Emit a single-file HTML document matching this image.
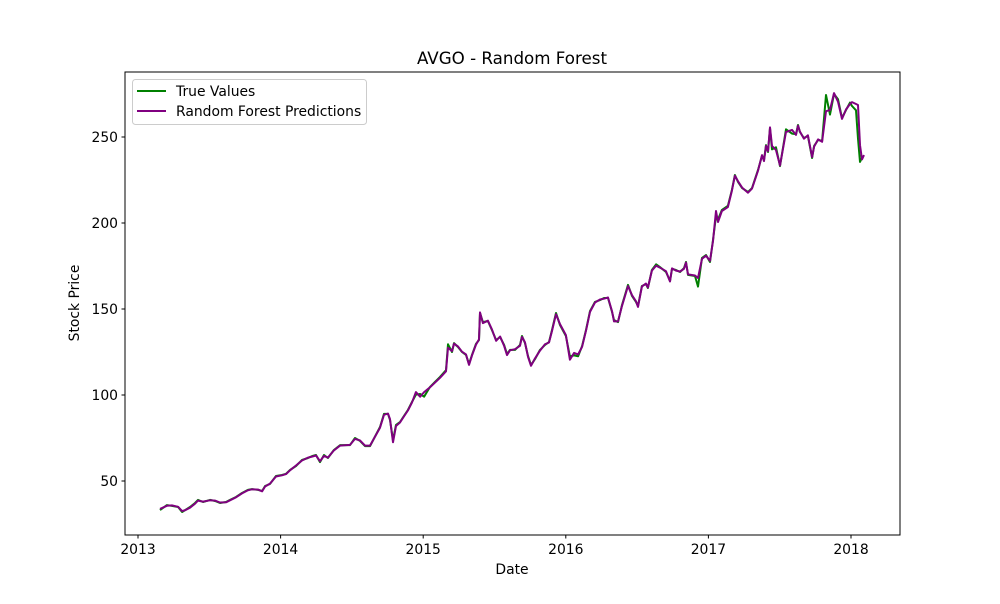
<!DOCTYPE html>
<html><head><meta charset="utf-8"><style>
body{margin:0;background:#fff;font-family:"DejaVu Sans","Liberation Sans",sans-serif;}
svg text{font-family:"DejaVu Sans","Liberation Sans",sans-serif;}
</style></head><body>
<svg id="c" width="1000" height="600">
<rect width="1000" height="600" fill="#fff"/>
<text x="512" y="64" font-size="16.7" text-anchor="middle">AVGO - Random Forest</text>
<g id="ticks"></g>
<g id="lines"></g>
<rect x="125" y="72" width="775" height="463" fill="none" stroke="#000" stroke-width="1"/>
<text x="512" y="574" font-size="13.9" text-anchor="middle">Date</text>
<text x="79" y="303" font-size="13.9" text-anchor="middle" transform="rotate(-90 79 303)">Stock Price</text>
<g>
<rect x="132.5" y="79.5" width="234" height="45" rx="3" fill="#fff" fill-opacity="0.8" stroke="#ccc"/>
<line x1="137" y1="91" x2="166" y2="91" stroke="green" stroke-width="2"/>
<text x="176" y="96" font-size="13.9">True Values</text>
<line x1="137" y1="111" x2="166" y2="111" stroke="purple" stroke-width="2"/>
<text x="176" y="116" font-size="13.9">Random Forest Predictions</text>
</g>
</svg>
<script>
const dates=[2013.154,2013.203,2013.238,2013.281,2013.309,2013.330,2013.365,2013.400,2013.421,2013.456,2013.505,2013.540,2013.575,2013.617,2013.645,2013.687,2013.729,2013.771,2013.799,2013.842,2013.870,2013.891,2013.926,2013.968,2014.010,2014.038,2014.066,2014.108,2014.150,2014.192,2014.220,2014.248,2014.276,2014.304,2014.332,2014.374,2014.417,2014.487,2014.522,2014.557,2014.592,2014.627,2014.697,2014.725,2014.753,2014.767,2014.788,2014.809,2014.837,2014.865,2014.893,2014.921,2014.949,2014.978,2015.006,2015.048,2015.118,2015.160,2015.174,2015.202,2015.216,2015.244,2015.272,2015.300,2015.321,2015.342,2015.370,2015.391,2015.398,2015.419,2015.454,2015.482,2015.511,2015.539,2015.567,2015.588,2015.609,2015.644,2015.679,2015.693,2015.714,2015.735,2015.756,2015.784,2015.819,2015.854,2015.882,2015.903,2015.931,2015.959,2016.001,2016.029,2016.058,2016.086,2016.114,2016.142,2016.170,2016.205,2016.240,2016.268,2016.296,2016.324,2016.338,2016.366,2016.394,2016.436,2016.464,2016.492,2016.506,2016.534,2016.562,2016.576,2016.604,2016.633,2016.661,2016.703,2016.731,2016.745,2016.773,2016.801,2016.829,2016.843,2016.857,2016.906,2016.927,2016.955,2016.983,2017.011,2017.032,2017.053,2017.067,2017.095,2017.137,2017.165,2017.186,2017.208,2017.236,2017.278,2017.306,2017.348,2017.376,2017.390,2017.404,2017.418,2017.432,2017.446,2017.474,2017.502,2017.544,2017.586,2017.614,2017.628,2017.642,2017.670,2017.698,2017.727,2017.741,2017.769,2017.797,2017.825,2017.853,2017.881,2017.909,2017.937,2017.965,2017.993,2018.007,2018.035,2018.049,2018.063,2018.077,2018.091];
const trueVals=[33.1,36.0,35.5,34.9,32.0,33.1,34.9,37.2,39.0,37.8,39.0,38.4,37.2,37.8,39.0,40.7,43.0,44.8,45.3,44.8,44.2,47.1,48.3,52.9,53.5,54.1,56.4,58.7,62.2,63.4,64.5,65.1,61.0,65.1,63.4,68.0,70.9,70.9,75.0,73.3,70.3,70.3,81.4,89.0,89.0,85.5,73.8,82.6,84.3,87.8,91.3,95.9,100.2,100.6,99.0,104.7,110.5,114.5,129.5,125.0,130.2,127.9,125.0,123.3,118.0,123.3,129.7,132.0,147.7,142.4,143.0,137.8,132.0,133.7,129.1,123.8,126.2,126.2,129.1,134.3,130.2,122.7,117.4,120.9,126.2,129.1,130.8,137.8,147.7,140.7,134.3,122.5,123.0,122.5,128.5,137.8,148.8,154.1,155.2,156.4,156.4,148.3,143.6,142.4,152.3,164.0,157.6,154.1,151.7,163.4,164.5,162.2,172.7,176.0,174.3,171.5,166.3,173.3,172.7,171.5,173.8,177.3,169.8,169.2,163.0,179.7,181.4,177.3,190.1,204.0,202.0,207.6,210.0,219.2,227.9,223.8,220.3,218.0,220.3,230.8,239.0,236.6,245.3,241.3,255.2,242.8,244.0,233.1,254.5,252.0,251.7,257.0,252.9,249.4,250.6,237.8,244.8,248.3,247.7,274.4,263.0,275.0,272.0,261.0,265.7,270.0,268.0,265.5,249.0,235.5,238.0];
const predVals=[33.8,35.6,35.8,35.0,32.5,33.0,34.5,36.8,38.6,38.0,38.8,38.6,37.5,37.6,38.8,40.5,42.8,44.6,45.2,45.0,44.0,46.8,48.5,52.6,53.3,54.0,56.2,59.0,61.9,63.6,64.2,64.8,61.5,64.6,63.6,67.8,70.6,71.0,74.5,73.6,70.6,70.6,81.0,88.5,89.2,86.0,72.5,82.0,84.0,87.5,91.0,95.5,101.7,99.0,101.7,104.5,110.0,113.8,127.5,125.5,129.8,128.2,125.2,123.6,117.5,123.0,129.3,132.3,148.0,141.8,143.2,138.2,131.5,134.0,128.6,123.2,126.0,126.6,128.6,133.8,130.6,122.2,117.0,121.3,125.8,129.5,130.5,137.2,147.0,141.2,134.8,120.5,124.5,123.6,128.0,137.4,148.3,153.8,155.5,156.0,156.7,148.8,142.8,142.8,151.8,163.4,158.0,154.5,151.2,163.0,164.8,162.5,172.3,175.2,174.0,172.0,166.0,173.6,172.3,171.8,173.4,177.0,170.2,169.5,168.0,179.2,181.0,178.0,189.5,207.0,200.6,207.0,209.3,218.8,227.5,224.2,220.6,217.6,220.0,230.4,239.5,236.0,244.8,241.8,255.6,244.8,242.4,233.5,252.9,254.1,251.2,256.6,253.2,249.0,251.0,238.4,244.4,248.6,247.2,265.0,265.7,275.5,270.5,260.5,266.0,269.2,270.3,269.2,268.6,245.3,237.0,239.5];
const yTicks=[50,100,150,200,250];
const xTicks=[2013,2014,2015,2016,2017,2018];
const X=v=>138+(v-2013)*142.6;
const Y=v=>481-(v-50)*1.72;
const NS="http://www.w3.org/2000/svg";
const tg=document.getElementById('ticks');
function mk(tag,attrs,parent){const e=document.createElementNS(NS,tag);for(const k in attrs)e.setAttribute(k,attrs[k]);parent.appendChild(e);return e;}
yTicks.forEach(v=>{
 const l=mk('line',{x1:121.5,x2:125,y1:Y(v),y2:Y(v),stroke:'#000'},tg);
 
 
 const t=mk('text',{x:118,y:Y(v)+5,'font-size':13.9,'text-anchor':'end'},tg);t.textContent=v;
 
 
});
xTicks.forEach(v=>{
 const l=mk('line',{x1:X(v),x2:X(v),y1:535,y2:538.5,stroke:'#000'},tg);
 
 
 const t=mk('text',{x:X(v),y:554,'font-size':13.9,'text-anchor':'middle'},tg);t.textContent=v;
 
 
});
const lg=document.getElementById('lines');
function path(vals,color,name){
 const d=vals.map((v,i)=>(i?'L':'M')+X(dates[i]).toFixed(1)+','+Y(v).toFixed(1)).join('');
 const p=mk('path',{d:d,fill:'none',stroke:color,'stroke-width':2,'stroke-linejoin':'round'},lg);
 
 
}
path(trueVals,'green','true-values-line');
path(predVals,'purple','predictions-line');
</script>
</body></html>
